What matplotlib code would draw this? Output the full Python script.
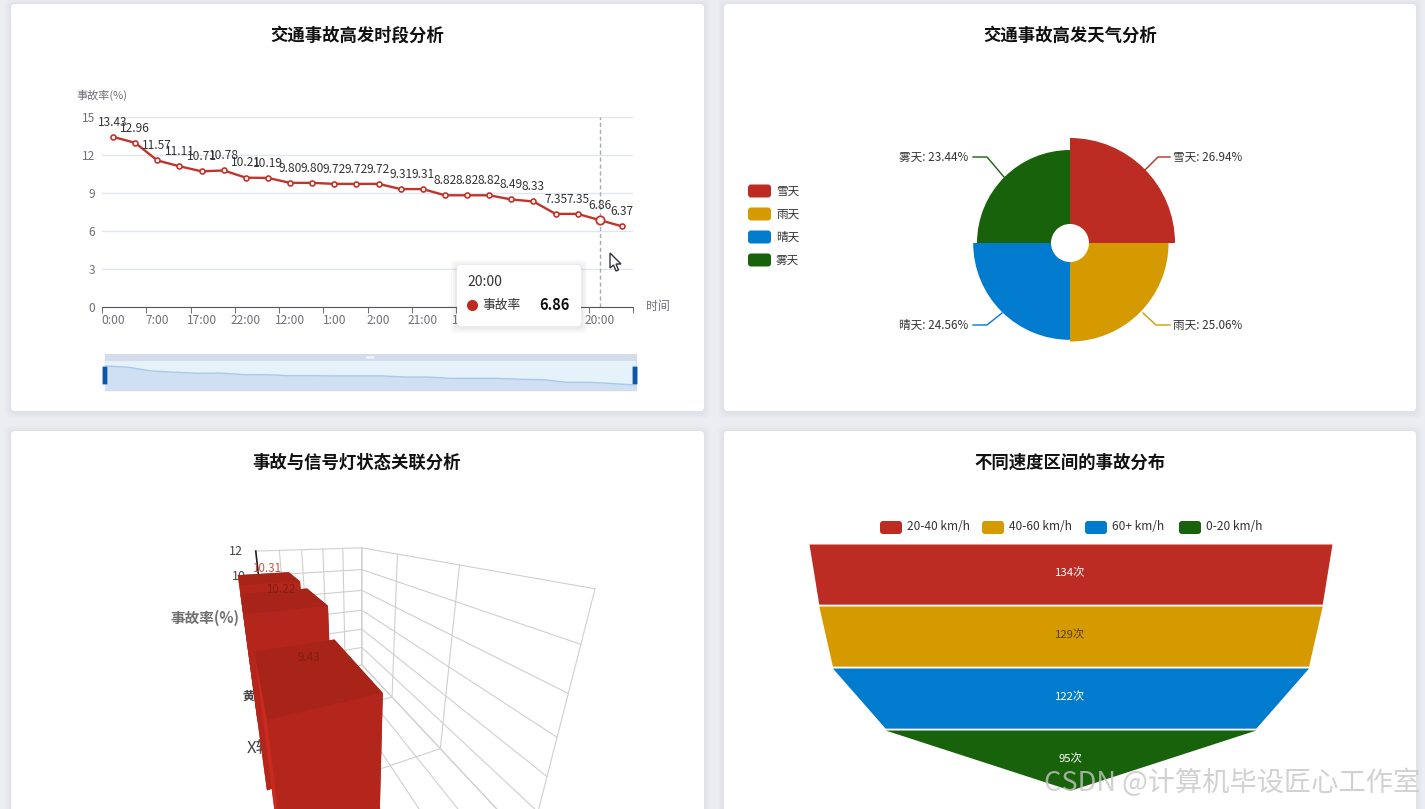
"""Traffic accident dashboard: four cards"""
import math
import matplotlib
matplotlib.use('Agg')
import matplotlib.pyplot as plt
from matplotlib.patches import FancyBboxPatch, Polygon, Rectangle

plt.rcParams['font.family'] = ['Noto Sans CJK SC', 'DejaVu Sans']

W, H = 1425, 809
RED = '#bc2c22'; YELLOW = '#d59a00'; BLUE = '#007bce'; GREEN = '#17620a'
LINE_RED = '#c0352b'; AXIS_GRAY = '#6e7079'; GRID = '#e0e6f1'

# hourly chart
hours = ['0:00', '3:00', '7:00', '4:00', '17:00', '5:00', '22:00', '6:00', '12:00', '9:00', '1:00', '10:00',
         '2:00', '11:00', '21:00', '13:00', '14:00', '15:00', '8:00', '16:00', '18:00', '19:00', '20:00', '23:00']
hour_rates = [13.43, 12.96, 11.57, 11.11, 10.71, 10.78, 10.21, 10.19, 9.80, 9.80, 9.72, 9.72,
              9.72, 9.31, 9.31, 8.82, 8.82, 8.82, 8.49, 8.33, 7.35, 7.35, 6.86, 6.37]
rate_ticks = [0, 3, 6, 9, 12, 15]

# weather rose
weather = ['雪天', '雨天', '晴天', '雾天']
weather_share = [26.94, 25.06, 24.56, 23.44]

# signal light bars, near to far
signals = ['红灯', '绿灯', '黄灯']
signal_rates = [9.43, 10.22, 10.31]
signal_ticks = [0, 2, 4, 6, 8, 10, 12]

# speed funnel
speeds = ['20-40 km/h', '40-60 km/h', '60+ km/h', '0-20 km/h']
speed_counts = [134, 129, 122, 95]

colors = [RED, YELLOW, BLUE, GREEN]


def add_axes_px(x0, y0, x1, y1, **kw):
    return fig.add_axes([x0 / W, 1 - y1 / H, (x1 - x0) / W, (y1 - y0) / H], **kw)


fig = plt.figure(figsize=(W / 100, H / 100), dpi=100, facecolor='#ebedf1')

# page layer in pixel coordinates
page = add_axes_px(0, 0, W, H, zorder=0)
page.set_xlim(0, W); page.set_ylim(H, 0); page.axis('off')
over = add_axes_px(0, 0, W, H, zorder=20)
over.set_xlim(0, W); over.set_ylim(H, 0); over.axis('off')

for x0, y0, x1, y1 in [(11, 4, 704, 411), (724, 4, 1416, 411), (11, 431, 704, 840), (724, 431, 1416, 840)]:
    for grow, alpha in [(6, .07), (4, .10), (2, .14)]:
        page.add_patch(FancyBboxPatch((x0 - grow, y0 - grow + 1), x1 - x0 + 2 * grow, y1 - y0 + 2 * grow,
                                      boxstyle='round,pad=0,rounding_size=6', fc='#c9ccd6', ec='none', alpha=alpha))
    page.add_patch(FancyBboxPatch((x0, y0), x1 - x0, y1 - y0, boxstyle='round,pad=0,rounding_size=4',
                                  fc='white', ec='none'))

for cx, cy, title in [(357, 36, '交通事故高发时段分析'), (1070, 36, '交通事故高发天气分析'),
                      (357, 463, '事故与信号灯状态关联分析'), (1070, 463, '不同速度区间的事故分布')]:
    page.text(cx, cy, title, ha='center', va='center', fontsize=12.5, fontweight='bold', color='#111111')

# line chart
ax = add_axes_px(102, 117, 633, 307, zorder=2)
xs = list(range(len(hours)))
ax.set_xlim(-.5, 23.5); ax.set_ylim(0, 15)
ax.patch.set_alpha(0)
ax.set_yticks(rate_ticks)
ax.grid(axis='y', color=GRID, lw=1)
ax.set_axisbelow(True)
ax.set_xticks(xs[::2]); ax.set_xticklabels(hours[::2])
ax.set_xticks([i - .5 for i in range(0, 25, 2)], minor=True)
ax.tick_params(axis='x', which='major', length=0, pad=5, labelsize=8.6, labelcolor=AXIS_GRAY)
ax.tick_params(axis='x', which='minor', length=4, color='#555555')
ax.tick_params(axis='y', length=0, pad=5, labelsize=8.6, labelcolor=AXIS_GRAY)
for s in ['top', 'right', 'left']:
    ax.spines[s].set_visible(False)
ax.spines['bottom'].set_color('#555555')
ax.axvline(22, color='#aaaaaa', lw=1, ls=(0, (3, 2)))
ax.plot(xs, hour_rates, color=LINE_RED, lw=1.7, marker='o', ms=3.6, mfc='white', mew=1.2, clip_on=False)
ax.plot(xs[22], hour_rates[22], 'o', color=LINE_RED, ms=6, mfc='white', mew=1.3, clip_on=False)
for x, v in zip(xs, hour_rates):
    ax.annotate(f'{v:.2f}', (x, v), xytext=(0, 6), textcoords='offset points', ha='center', va='bottom',
                fontsize=8.6, color='#333333', annotation_clip=False)
page.text(102, 95, '事故率(%)', ha='center', va='center', fontsize=8, color=AXIS_GRAY)
page.text(658, 306, '时间', ha='center', va='center', fontsize=8.6, color=AXIS_GRAY)

# data zoom strip
page.add_patch(Rectangle((105, 354), 531, 7, fc='#d4dcec', ec='none'))
page.add_patch(Rectangle((366, 356), 8, 2.5, fc='#eef2f8', ec='none'))
zoom = add_axes_px(105, 361, 636, 389, zorder=2)
zoom.set_xlim(0, 23); zoom.set_ylim(4.87, 15.27)
zoom.set_facecolor('#e6f2fa')
zoom.set_xticks([]); zoom.set_yticks([])
for s in zoom.spines.values():
    s.set_visible(False)
zoom.fill_between(xs, hour_rates, 0, color='#cfe0f2', lw=0)
zoom.plot(xs, hour_rates, color='#a9c8ec', lw=1)
page.plot([105, 105, 636, 636], [354, 390, 390, 354], color='#d4dcec', lw=1)
for hx in (105, 635):
    over.add_patch(FancyBboxPatch((hx - 2, 367), 4, 17, boxstyle='round,pad=0.4,rounding_size=1',
                                  fc='#0b57a8', ec='#8fb0d6', lw=.5))

# tooltip and cursor
for grow, alpha in [(6, .04), (4, .05), (2, .06)]:
    over.add_patch(FancyBboxPatch((457 - grow, 265 - grow + 1), 124 + 2 * grow, 61 + 2 * grow,
                                  boxstyle='round,pad=0,rounding_size=5', fc='#777777', ec='none', alpha=alpha))
over.add_patch(FancyBboxPatch((457, 265), 124, 61, boxstyle='round,pad=0,rounding_size=3', fc='white', ec='none'))
over.text(467, 282, hours[22], ha='left', va='center', fontsize=10, color='#333333')
over.plot(472, 305, 'o', color=RED, ms=7)
over.text(482, 305, '事故率', ha='left', va='center', fontsize=9.2, color='#333333')
over.text(570, 305, f'{hour_rates[22]:.2f}', ha='right', va='center', fontsize=10.5, fontweight='bold', color='#111111')
over.add_patch(Polygon([(610, 253), (610, 268), (613.5, 265), (616, 271), (618.5, 270), (616, 264), (621, 264)],
                       fc='white', ec='#333333', lw=1))

# weather rose, radius linear in the value
rose = add_axes_px(1070 - 110, 243 - 110, 1070 + 110, 243 + 110, projection='polar', zorder=2)
rose.set_theta_zero_location('N'); rose.set_theta_direction(-1)
rose.set_ylim(-3.67, 28.40)
rose.axis('off')
for i, (v, c) in enumerate(zip(weather_share, colors)):
    rose.bar((i + .5) * math.pi / 2, v - 1.87, width=math.pi / 2, bottom=1.87, color=c, lw=0)

leaders = [[(1145, 170), (1158, 157), (1170, 157)], [(1143, 313), (1156, 325), (1170, 325)],
           [(1002, 313), (987, 325), (973, 325)], [(1004, 177), (987, 157), (973, 157)]]
for name, v, c, pts in zip(weather, weather_share, colors, leaders):
    page.plot([p[0] for p in pts], [p[1] for p in pts], color=c, lw=1)
    right = pts[-1][0] > 1070
    page.text(pts[-1][0] + (3 if right else -5), pts[-1][1], f'{name}: {v:.2f}%', ha='left' if right else 'right',
              va='center', fontsize=8.4, color='#333333')
for name, c, ly in zip(weather, colors, [191, 214, 237, 260]):
    page.add_patch(FancyBboxPatch((748, ly - 6.5), 23, 13, boxstyle='round,pad=0,rounding_size=3', fc=c, ec='none'))
    page.text(776, ly, name, ha='left', va='center', fontsize=8.4, color='#333333')

# 3D bars, camera fitted to the wall lines of the reference
ELEV, AZIM, FOCAL_PX = 18.7, -112.8, 296
PX, PY = 362, 625
X_UNIT, Y_UNIT, Z_UNIT = .066, .237, .035375
CAM = (-.057, -.211, .496)
AIM = .6
e, a = math.radians(ELEV), math.radians(AZIM)
look = [CAM[0] - AIM * math.cos(e) * math.cos(a), CAM[1] - AIM * math.cos(e) * math.sin(a), CAM[2] - AIM * math.sin(e)]
focal = AIM * 1.1003 / 10
side = FOCAL_PX * .185 / focal
ax3 = add_axes_px(PX - .5135 * side, PY - (1 - .5135) * side, PX + (1 - .5135) * side, PY + .5135 * side,
                  projection='3d', zorder=3)
ax3.set_proj_type('persp', focal_length=focal)
ax3.view_init(elev=ELEV, azim=AZIM)
ax3.set_box_aspect((1, 1, 1))
ax3.set_xlim((look[0] - .5) / X_UNIT, (look[0] + .5) / X_UNIT)
ax3.set_ylim((look[1] - .5) / Y_UNIT, (look[1] + .5) / Y_UNIT)
ax3.set_zlim((look[2] - .5) / Z_UNIT, (look[2] + .5) / Z_UNIT)
ax3.set_axis_off()
ax3.patch.set_alpha(0)
ax3.computed_zorder = False
x_grid = [0, 1, 2, 3, 4, 5]
y_grid = [0, 1, 2, 3]
top = signal_ticks[-1]
for z in signal_ticks:
    ax3.plot([0, 5], [3, 3], [z, z], color='#cfcfcf', lw=.8, zorder=1)
    ax3.plot([5, 5], [0, 3], [z, z], color='#cfcfcf', lw=.8, zorder=1)
for x in x_grid:
    ax3.plot([x, x], [3, 3], [0, top], color='#cfcfcf', lw=.8, zorder=1)
    ax3.plot([x, x], [0, 3], [0, 0], color='#cfcfcf', lw=.8, zorder=1)
for y in y_grid:
    ax3.plot([5, 5], [y, y], [0, top], color='#cfcfcf', lw=.8, zorder=1)
    ax3.plot([0, 5], [y, y], [0, 0], color='#cfcfcf', lw=.8, zorder=1)
ax3.plot([0, 0], [3, 3], [0, top], color='#222222', lw=1.2, zorder=1.5)
for z in signal_ticks[-2:]:
    ax3.text(-.8, 3, z, str(z), ha='center', va='center', fontsize=9, color='#444444', zorder=1.6)
ax3.text(-1.1, 2.5, .9, signals[2][0], ha='center', va='center', fontsize=8.5, fontweight='bold', color='#444444', zorder=1.6)
page.text(205, 618, '事故率(%)', ha='center', va='center', fontsize=10.5, color='#707070', fontweight='bold')
page.text(247, 748, 'X轴', ha='left', va='center', fontsize=12, color='#444444')

face_colors = ['#a82418', '#a92418', '#b4261b', '#b4261b', '#c92a20', '#b4261b']
bar_x = [.12, .2, .2]
bar_w = [1.72, 2.1, 2.1]
bar_y = [.44, 1.5, 2.5]
for i in [2, 1, 0]:
    v = signal_rates[i]
    ax3.bar3d(bar_x[i] - bar_w[i] / 2, bar_y[i] - .34, 0, bar_w[i], .68, v, color=face_colors, shade=False,
              edgecolor='none', zorder=2 + (2 - i))
    ax3.text(bar_x[i], bar_y[i], v + .2, f'{v:.2f}', ha='center', va='bottom', fontsize=8.4,
             color='#c9544b' if i == 2 else '#7d1f15', zorder=6 + (2 - i))

# funnel, width proportional to the count
fun = add_axes_px(809, 544, 1332, 792, zorder=2)
fun.set_xlim(-67, 67); fun.set_ylim(4, 0)
fun.axis('off')
next_counts = speed_counts[1:] + [0]
for i, (v, nv, c) in enumerate(zip(speed_counts, next_counts, colors)):
    fun.fill_betweenx([i, i + .97], [-v / 2, -nv / 2], [v / 2, nv / 2], color=c, lw=0)
    fun.text(0, i + .47, f'{v}次', ha='center', va='center', fontsize=8.2, color='#5a3c00' if c == YELLOW else 'white')
for name, c, lx in zip(speeds, colors, [880, 982, 1085, 1179]):
    page.add_patch(FancyBboxPatch((lx, 521), 22, 13, boxstyle='round,pad=0,rounding_size=3', fc=c, ec='none'))
    page.text(lx + 27, 527, name, ha='left', va='center', fontsize=8.6, color='#333333')

# watermark
over.text(1420, 783, 'CSDN @计算机毕设匠心工作室', ha='right', va='center', fontsize=19.6, color='#c6c6c6', alpha=.8)

fig.savefig('out.png', dpi=100, facecolor=fig.get_facecolor())
plt.close(fig)
